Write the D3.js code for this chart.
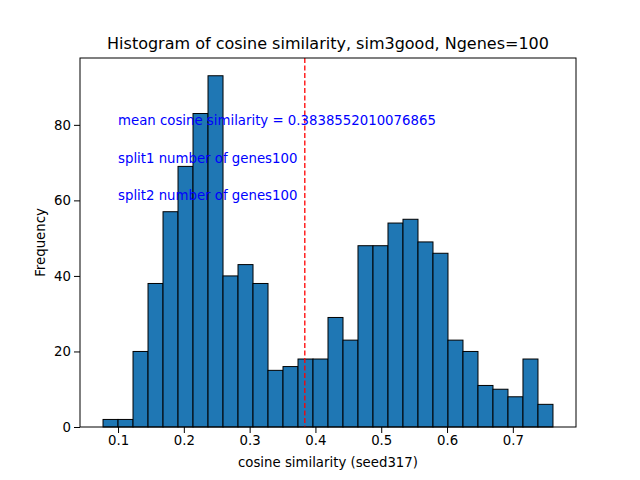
<!DOCTYPE html>
<html><head><meta charset="utf-8">
<script src="https://cdn.jsdelivr.net/npm/d3@7"></script>
<style>body{margin:0;background:#fff}text{font-family:"DejaVu Sans",sans-serif}</style>
</head><body>
<svg id="c" width="640" height="480"></svg>
<script>
// histogram data
const binStart = 0.0772, binEnd = 0.761;
const counts = [2,2,20,38,57,69,83,93,40,43,38,15,16,18,18,29,23,48,48,54,55,49,46,23,20,11,10,8,18,6];
const xTicks = [0.1,0.2,0.3,0.4,0.5,0.6,0.7];
const yTicks = [0,20,40,60,80];
const meanSim = 0.3838552010076865;
const notes = ["mean cosine similarity = 0.3838552010076865","split1 number of genes100","split2 number of genes100"];
const noteY = [80,70,60];

const svg = d3.select('#c');
const L = 80, R = 576, T = 58, B = 427;
const x = d3.scaleLinear().domain([0.0422, 0.796]).range([L, R]);
const y = d3.scaleLinear().domain([0, 97.7]).range([B, T]);
const bw = (binEnd - binStart) / counts.length;

svg.append('g').selectAll('rect').data(counts).join('rect')
  .attr('x', (d,i) => x(binStart + i*bw))
  .attr('width', (d,i) => x(binStart + (i+1)*bw) - x(binStart + i*bw))
  .attr('y', d => y(d)).attr('height', d => B - y(d))
  .attr('fill', '#1f77b4').attr('stroke', '#000').attr('stroke-width', 1);

svg.append('line').attr('x1', x(meanSim)).attr('x2', x(meanSim))
  .attr('y1', T).attr('y2', B).attr('stroke', 'red').attr('stroke-width', 1.3)
  .attr('stroke-dasharray', '5,2.5');

svg.append('g').selectAll('text').data(notes).join('text')
  .attr('x', x(0.1)).attr('y', (d,i) => y(noteY[i]))
  .attr('fill', 'blue').attr('font-size', 13.3).text(d => d);

const xa = svg.append('g').attr('transform', `translate(0,${B})`)
  .call(d3.axisBottom(x).tickValues(xTicks).tickFormat(d3.format('.1f')).tickSizeOuter(0));
const ya = svg.append('g').attr('transform', `translate(${L},0)`)
  .call(d3.axisLeft(y).tickValues(yTicks).tickSizeOuter(0));
[xa, ya].forEach(a => { a.selectAll('text').attr('font-size', 13.3).attr('fill', '#000').style('font-family','DejaVu Sans'); a.select('.domain').remove(); a.selectAll('line').attr('stroke', '#000'); });

svg.append('rect').attr('x', L).attr('y', T).attr('width', R-L).attr('height', B-T)
  .attr('fill', 'none').attr('stroke', '#000').attr('stroke-width', 1);

svg.append('text').attr('x', (L+R)/2).attr('y', 49).attr('text-anchor', 'middle')
  .attr('font-size', 16).text('Histogram of cosine similarity, sim3good, Ngenes=100');
svg.append('text').attr('x', (L+R)/2).attr('y', 467).attr('text-anchor', 'middle')
  .attr('font-size', 13.3).text('cosine similarity (seed317)');
svg.append('text').attr('transform', `translate(45,${(T+B)/2}) rotate(-90)`).attr('text-anchor', 'middle')
  .attr('font-size', 13.3).text('Frequency');
</script>
</body></html>
